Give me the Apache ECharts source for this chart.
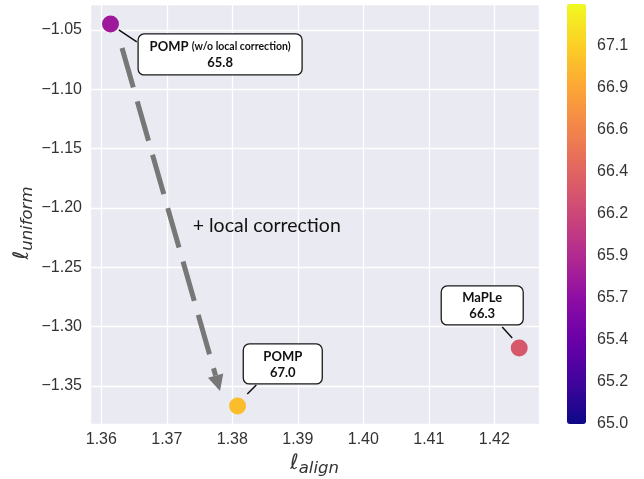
<!DOCTYPE html>
<html>
<head>
<meta charset="utf-8">
<script src="https://cdn.jsdelivr.net/npm/echarts@6/dist/echarts.min.js"></script>
<style>
  html, body { margin: 0; padding: 0; background: #fff; }
  #chart { width: 644px; height: 479px; }
</style>
</head>
<body>
<div id="chart"></div>
<script>
// ---- data ----
const methodNames = ['POMP (w/o local correction)', 'POMP', 'MaPLe'];
const alignVals = [1.3614, 1.3808, 1.4238];
const uniformVals = [-1.0449, -1.3670, -1.3181];
const accuracy = [65.8, 67.0, 66.3];
const cbarTickLabels = ['65.0', '65.2', '65.4', '65.7', '65.9', '66.2', '66.4', '66.6', '66.9', '67.1'];
const cbarMin = 65.0;
const cbarMax = 67.333;
const arrowStart = [1.36316, -1.0652];
const arrowEnd = [1.37812, -1.3544];
const arrowText = '+ local correction';
const arrowTextPos = [1.37395, -1.2153];
const xTitle = '{l|ℓ}{s|align}';
const yTitle = '{l|ℓ}{s|uniform}';

// ---- layout (pixel offsets of annotation boxes relative to their point) ----
const boxLayout = [
  { dx: 27.6, dy: 10, w: 164, h: 41, l: [8.3, 6, 26.3, 18] },
  { dx: 5.7, dy: -62, w: 79, h: 40, l: [9.7, -12, 18.7, -21] },
  { dx: -78, dy: -62, w: 82, h: 39, l: [-17, -21, -7, -10] }
];

const plasma = ['#0d0887', '#41049d', '#6a00a8', '#8f0da4', '#b12a90', '#cc4778',
                '#e16462', '#f2844b', '#fca636', '#fcce25', '#f0f921'];

const chart = echarts.init(document.getElementById('chart'), null, { renderer: 'canvas' });

const tickFont = { fontFamily: 'Liberation Sans, Arial, sans-serif', fontSize: 16, color: '#333' };

const points = alignVals.map((x, i) => [x, uniformVals[i], accuracy[i], methodNames[i]]);

const nameRich = {
  l: { fontFamily: 'DejaVu Sans', fontSize: 21, color: '#333', verticalAlign: 'bottom', lineHeight: 22 },
  s: { fontFamily: 'DejaVu Sans', fontStyle: 'italic', fontSize: 16.5, color: '#333', verticalAlign: 'bottom', lineHeight: 22, padding: [0, 0, -3, 0] }
};
const nameRichG = {
  l: { fontFamily: 'DejaVu Sans', fontSize: 21, fill: '#333', verticalAlign: 'bottom', lineHeight: 22 },
  s: { fontFamily: 'DejaVu Sans', fontStyle: 'italic', fontSize: 16.5, fill: '#333', verticalAlign: 'bottom', lineHeight: 22, padding: [0, 0, -3, 0] }
};

const option = {
  backgroundColor: '#fff',
  animation: false,
  grid: [
    { left: 90, top: 4, right: 105, bottom: 55, show: true, backgroundColor: '#eaeaf2', borderWidth: 0, containLabel: false, outerBoundsMode: 'none' },
    { left: 567, top: 4, width: 19, height: 420, show: false, containLabel: false, outerBoundsMode: 'none' }
  ],
  xAxis: [
    {
      type: 'value', gridIndex: 0, min: 1.35827, max: 1.42682, splitNumber: 7,
      axisLine: { show: false }, axisTick: { show: false },
      splitLine: { show: true, lineStyle: { color: '#fff', width: 1.3 } },
      axisLabel: Object.assign({ margin: 8, formatter: v => v.toFixed(2), showMinLabel: false, showMaxLabel: false }, tickFont),
      name: xTitle, nameLocation: 'middle', nameGap: 28,
      nameTextStyle: { rich: nameRich }
    },
    { type: 'value', gridIndex: 1, min: 0, max: 1, show: false }
  ],
  yAxis: [
    {
      type: 'value', gridIndex: 0, min: -1.3822, max: -1.0281, splitNumber: 7,
      axisLine: { show: false }, axisTick: { show: false },
      splitLine: { show: true, lineStyle: { color: '#fff', width: 1.3 } },
      axisLabel: Object.assign({ margin: 8, formatter: v => v.toFixed(2).replace('-', '\u2212'), showMinLabel: false, showMaxLabel: false }, tickFont)
    },
    {
      type: 'value', gridIndex: 1, min: 0, max: 10, interval: 1, position: 'right',
      axisLine: { show: false }, axisTick: { show: false }, splitLine: { show: false },
      axisLabel: Object.assign({ margin: 11, formatter: v => (cbarTickLabels[Math.round(v)] || '') }, tickFont)
    }
  ],
  visualMap: {
    type: 'continuous', min: cbarMin, max: cbarMax, dimension: 2, seriesIndex: 0,
    calculable: false, hoverLink: false, left: 567, top: 4, itemWidth: 19, itemHeight: 420,
    padding: 0, text: null, showLabel: false,
    inRange: { color: plasma }
  },
  series: [
    {
      type: 'scatter', xAxisIndex: 0, yAxisIndex: 0, symbolSize: 17, data: points, z: 5,
      itemStyle: { opacity: 1 }
    }
  ]
};
chart.setOption(option);

function px(p) { return chart.convertToPixel({ gridIndex: 0 }, p); }

const graphics = [];
// y-axis title (rotated)
graphics.push({
  type: 'text', x: 22, y: 223, rotation: Math.PI / 2,
  style: { text: yTitle, rich: nameRichG, align: 'center', verticalAlign: 'middle' }, z: 4
});
// Arrow
const a0 = px(arrowStart), a1 = px(arrowEnd);
const ddx = a1[0] - a0[0], ddy = a1[1] - a0[1];
const len = Math.sqrt(ddx * ddx + ddy * ddy);
const ux = ddx / len, uy = ddy / len;
const headLen = 16, headHalf = 8;
const base = [a1[0] - ux * headLen, a1[1] - uy * headLen];
graphics.push({
  type: 'line', shape: { x1: a0[0], y1: a0[1], x2: base[0], y2: base[1] },
  style: { stroke: '#777777', lineWidth: 5, lineDash: [41, 14.5], lineCap: 'butt' }, z: 3
});
graphics.push({
  type: 'polygon',
  shape: { points: [[a1[0], a1[1]], [base[0] - uy * headHalf, base[1] + ux * headHalf], [base[0] + uy * headHalf, base[1] - ux * headHalf]] },
  style: { fill: '#777777' }, z: 3
});
const tp = px(arrowTextPos);
graphics.push({
  type: 'text', x: tp[0], y: tp[1],
  style: { text: arrowText, fontFamily: 'Lato, Open Sans, sans-serif', fontSize: 19.5, fill: '#111', align: 'left', verticalAlign: 'middle' }, z: 4
});

// Annotation boxes
points.forEach((p, i) => {
  const c = px([p[0], p[1]]);
  const L = boxLayout[i];
  const bx = c[0] + L.dx, by = c[1] + L.dy;
  graphics.push({
    type: 'line', shape: { x1: c[0] + L.l[0], y1: c[1] + L.l[1], x2: c[0] + L.l[2], y2: c[1] + L.l[3] },
    style: { stroke: '#111', lineWidth: 1.5 }, z: 6
  });
  graphics.push({
    type: 'rect', shape: { x: bx, y: by, width: L.w, height: L.h, r: 6 },
    style: { fill: '#fff', stroke: '#1a1a1a', lineWidth: 1.3 }, z: 6
  });
  const nm = p[3];
  const k = nm.indexOf(' (');
  const first = k >= 0 ? '{a|' + nm.slice(0, k) + '} {b|' + nm.slice(k + 1) + '}' : '{a|' + nm + '}';
  graphics.push({
    type: 'text', x: bx + L.w / 2, y: by + L.h / 2 + 0.5,
    style: {
      text: first + '\n{a|' + p[2].toFixed(1) + '}',
      align: 'center', verticalAlign: 'middle',
      rich: {
        a: { fontFamily: 'Lato, sans-serif', fontWeight: 'bold', fontSize: 13, fill: '#111', lineHeight: 16 },
        b: { fontFamily: 'Lato, sans-serif', fontWeight: 'bold', fontSize: 10.5, fill: '#111', lineHeight: 16 }
      }
    }, z: 7
  });
});
chart.setOption({ graphic: graphics });
</script>
</body>
</html>
